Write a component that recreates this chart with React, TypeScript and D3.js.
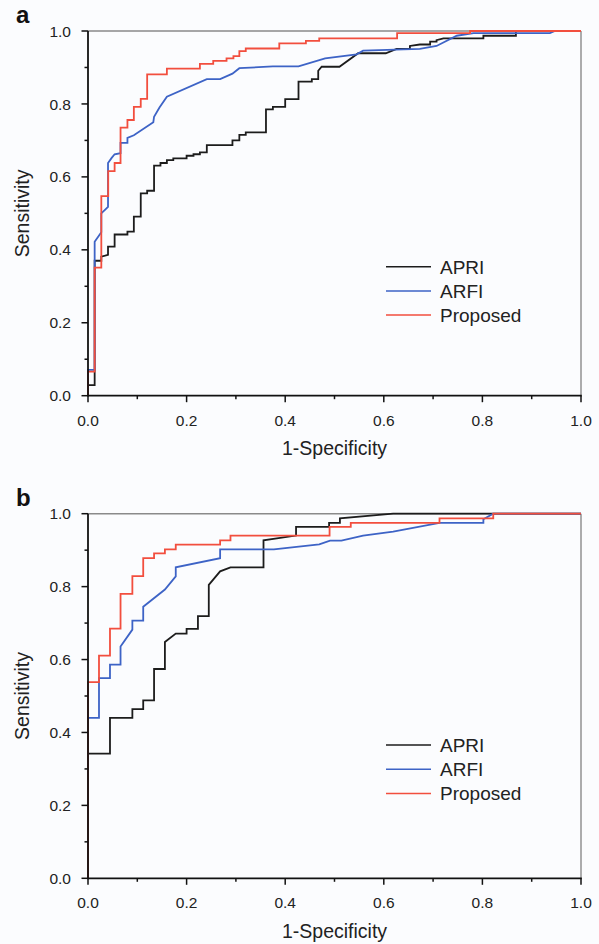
import React from 'react';
import * as d3 from 'd3';

// ---------- data ----------
const seriesNames = ['APRI', 'ARFI', 'Proposed'];
const seriesColors = ['#1c1c1c', '#3d63c6', '#f24e3e'];
const majorTicks = [0, 0.2, 0.4, 0.6, 0.8, 1.0];
const minorTicks = [0.1, 0.3, 0.5, 0.7, 0.9];
const tickLabels = ['0.0', '0.2', '0.4', '0.6', '0.8', '1.0'];
const panelLetters = ['a', 'b'];
const xTitle = '1-Specificity';
const yTitle = 'Sensitivity';

// Panel a
const aApriFpr = [0, 0, 0.0135, 0.0135, 0.027, 0.027, 0.0406, 0.0406, 0.054, 0.054, 0.08, 0.08, 0.093, 0.093, 0.107, 0.107, 0.12, 0.12, 0.134, 0.134, 0.147, 0.147, 0.16, 0.16, 0.173, 0.173, 0.2, 0.2, 0.214, 0.214, 0.227, 0.227, 0.241, 0.241, 0.293, 0.293, 0.307, 0.307, 0.32, 0.32, 0.361, 0.361, 0.375, 0.375, 0.4, 0.4, 0.427, 0.427, 0.454, 0.454, 0.467, 0.467, 0.474, 0.51, 0.548, 0.604, 0.626, 0.653, 0.653, 0.673, 0.694, 0.694, 0.707, 0.707, 0.721, 0.802, 0.802, 0.868, 0.868, 1];
const aApriTpr = [0, 0.029, 0.029, 0.37, 0.37, 0.381, 0.386, 0.409, 0.409, 0.442, 0.442, 0.45, 0.45, 0.491, 0.491, 0.555, 0.555, 0.562, 0.562, 0.631, 0.631, 0.638, 0.638, 0.646, 0.646, 0.651, 0.651, 0.658, 0.658, 0.662, 0.662, 0.667, 0.667, 0.687, 0.687, 0.7, 0.7, 0.715, 0.715, 0.722, 0.722, 0.785, 0.785, 0.792, 0.792, 0.813, 0.813, 0.861, 0.861, 0.868, 0.868, 0.891, 0.902, 0.902, 0.939, 0.939, 0.951, 0.951, 0.959, 0.963, 0.963, 0.971, 0.971, 0.975, 0.98, 0.98, 0.987, 0.987, 1, 1];

const aArfiFpr = [0, 0, 0.0135, 0.0135, 0.027, 0.027, 0.0406, 0.0406, 0.048, 0.054, 0.066, 0.066, 0.08, 0.08, 0.093, 0.1325, 0.134, 0.145, 0.16, 0.241, 0.268, 0.293, 0.307, 0.375, 0.427, 0.481, 0.545, 0.558, 0.673, 0.707, 0.748, 0.782, 0.937, 0.947, 1];
const aArfiTpr = [0, 0.071, 0.071, 0.422, 0.448, 0.5, 0.518, 0.638, 0.652, 0.662, 0.665, 0.693, 0.693, 0.707, 0.714, 0.75, 0.765, 0.79, 0.82, 0.868, 0.868, 0.883, 0.898, 0.903, 0.903, 0.925, 0.936, 0.946, 0.951, 0.959, 0.987, 0.994, 0.994, 1, 1];

const aPropFpr = [0, 0, 0.0135, 0.0135, 0.027, 0.027, 0.041, 0.041, 0.054, 0.054, 0.066, 0.066, 0.08, 0.08, 0.093, 0.093, 0.107, 0.107, 0.12, 0.12, 0.16, 0.16, 0.227, 0.227, 0.254, 0.254, 0.281, 0.281, 0.295, 0.295, 0.307, 0.307, 0.32, 0.32, 0.388, 0.388, 0.442, 0.442, 0.469, 0.469, 0.627, 0.627, 0.775, 0.775, 1];
const aPropTpr = [0, 0.066, 0.066, 0.351, 0.351, 0.547, 0.547, 0.616, 0.616, 0.638, 0.638, 0.735, 0.735, 0.756, 0.756, 0.792, 0.792, 0.814, 0.814, 0.881, 0.881, 0.897, 0.897, 0.91, 0.91, 0.918, 0.918, 0.925, 0.925, 0.931, 0.931, 0.945, 0.945, 0.952, 0.952, 0.966, 0.966, 0.973, 0.973, 0.98, 0.98, 0.994, 0.994, 1, 1];

// Panel b
const bApriFpr = [0, 0, 0.0446, 0.0446, 0.09, 0.09, 0.112, 0.112, 0.134, 0.134, 0.156, 0.156, 0.178, 0.2, 0.2, 0.223, 0.223, 0.245, 0.245, 0.268, 0.289, 0.356, 0.356, 0.422, 0.422, 0.489, 0.489, 0.511, 0.511, 0.619, 1];
const bApriTpr = [0, 0.342, 0.342, 0.44, 0.44, 0.464, 0.464, 0.488, 0.488, 0.574, 0.574, 0.648, 0.671, 0.671, 0.684, 0.684, 0.719, 0.719, 0.805, 0.842, 0.853, 0.853, 0.927, 0.94, 0.964, 0.964, 0.975, 0.975, 0.987, 1, 1];

const bArfiFpr = [0, 0, 0.0223, 0.0223, 0.0446, 0.0446, 0.066, 0.066, 0.09, 0.09, 0.112, 0.112, 0.156, 0.178, 0.178, 0.268, 0.268, 0.377, 0.469, 0.491, 0.514, 0.558, 0.619, 0.713, 0.802, 0.802, 0.822, 1];
const bArfiTpr = [0, 0.44, 0.44, 0.549, 0.549, 0.586, 0.586, 0.636, 0.682, 0.707, 0.707, 0.745, 0.792, 0.828, 0.853, 0.878, 0.902, 0.902, 0.916, 0.926, 0.926, 0.94, 0.951, 0.975, 0.975, 0.985, 1, 1];

const bPropFpr = [0, 0, 0.0223, 0.0223, 0.0446, 0.0446, 0.066, 0.066, 0.09, 0.09, 0.112, 0.112, 0.134, 0.134, 0.156, 0.156, 0.178, 0.178, 0.268, 0.268, 0.289, 0.289, 0.49, 0.49, 0.533, 0.533, 0.713, 0.713, 0.822, 0.822, 1];
const bPropTpr = [0, 0.538, 0.538, 0.611, 0.611, 0.685, 0.685, 0.78, 0.78, 0.829, 0.829, 0.878, 0.878, 0.891, 0.891, 0.902, 0.902, 0.915, 0.915, 0.927, 0.927, 0.94, 0.94, 0.964, 0.964, 0.975, 0.975, 0.987, 0.987, 1, 1];

// ---------- layout ----------
const W = 599;
const H = 944;
const X0 = 88;
const X1 = 581;
const FONT = "'Liberation Sans', Arial, Helvetica, sans-serif";

type Pts = [number, number][];
const zip = (a: number[], b: number[]): Pts => a.map((v, i) => [v, b[i]]);

interface PanelProps {
  top: number;
  bottom: number;
  letter: string;
  letterY: number;
  legendTop: number;
  series: Pts[];
}

function Panel({ top, bottom, letter, letterY, legendTop, series }: PanelProps) {
  const x = d3.scaleLinear().domain([0, 1]).range([X0, X1]);
  const y = d3.scaleLinear().domain([0, 1]).range([bottom, top]);
  const line = d3
    .line<[number, number]>()
    .x((d) => x(d[0]))
    .y((d) => y(d[1]));
  const midY = (top + bottom) / 2;
  const midX = (X0 + X1) / 2;
  return (
    <g>
      <text x={16} y={letterY} fontFamily={FONT} fontWeight="bold" fontSize={24} fill="#111">
        {letter}
      </text>
      {/* frame top/right grey */}
      <line x1={X0} x2={X1} y1={top} y2={top} stroke="#8a8a8a" strokeWidth={1.4} />
      <line x1={X1} x2={X1} y1={top} y2={bottom} stroke="#8a8a8a" strokeWidth={1.4} />
      {/* curves */}
      {series.map((pts, i) => (
        <path
          key={i}
          d={line(pts) || ''}
          fill="none"
          stroke={seriesColors[i]}
          strokeWidth={1.8}
          strokeLinejoin="miter"
        />
      ))}
      {/* axes */}
      <line x1={X0} x2={X1 + 0.8} y1={bottom} y2={bottom} stroke="#111" strokeWidth={1.8} />
      <line x1={X0} x2={X0} y1={top} y2={bottom + 0.9} stroke="#111" strokeWidth={1.8} />
      {majorTicks.map((t, i) => (
        <g key={'mx' + i}>
          <line x1={x(t)} x2={x(t)} y1={bottom} y2={bottom + 6.5} stroke="#111" strokeWidth={1.5} />
          <text
            x={x(t)}
            y={bottom + 30}
            textAnchor="middle"
            fontFamily={FONT}
            fontSize={15.5}
            fill="#222"
          >
            {tickLabels[i]}
          </text>
          <line x1={X0} x2={X0 - 6.5} y1={y(t)} y2={y(t)} stroke="#111" strokeWidth={1.5} />
          <text
            x={71}
            y={y(t)}
            dy="0.36em"
            textAnchor="end"
            fontFamily={FONT}
            fontSize={15.5}
            fill="#222"
          >
            {tickLabels[i]}
          </text>
        </g>
      ))}
      {minorTicks.map((t, i) => (
        <g key={'mn' + i}>
          <line x1={x(t)} x2={x(t)} y1={bottom} y2={bottom + 3.5} stroke="#111" strokeWidth={1.5} />
          <line x1={X0} x2={X0 - 3.5} y1={y(t)} y2={y(t)} stroke="#111" strokeWidth={1.5} />
        </g>
      ))}
      <text
        x={midX}
        y={bottom + 59.5}
        textAnchor="middle"
        fontFamily={FONT}
        fontSize={19.5}
        fill="#222"
      >
        {xTitle}
      </text>
      <text
        transform={`translate(29,${midY}) rotate(-90)`}
        textAnchor="middle"
        fontFamily={FONT}
        fontSize={19.5}
        fill="#222"
      >
        {yTitle}
      </text>
      {/* legend */}
      {seriesNames.map((n, i) => {
        const ly = legendTop + i * 24.2;
        return (
          <g key={'lg' + i}>
            <line x1={386} x2={431} y1={ly} y2={ly} stroke={seriesColors[i]} strokeWidth={1.5} />
            <text x={440} y={ly} dy="0.36em" fontFamily={FONT} fontSize={19} fill="#222">
              {n}
            </text>
          </g>
        );
      })}
    </g>
  );
}

export default function App() {
  const seriesA: Pts[] = [zip(aApriFpr, aApriTpr), zip(aArfiFpr, aArfiTpr), zip(aPropFpr, aPropTpr)];
  const seriesB: Pts[] = [zip(bApriFpr, bApriTpr), zip(bArfiFpr, bArfiTpr), zip(bPropFpr, bPropTpr)];
  return (
    <svg
      width={W}
      height={H}
      viewBox={`0 0 ${W} ${H}`}
      style={{ position: 'absolute', left: 0, top: 0 }}
    >
      <rect x={0} y={0} width={W} height={H} fill="#fbfcfe" />
      <Panel top={31} bottom={395.7} letter={panelLetters[0]} letterY={23} legendTop={266.7} series={seriesA} />
      <Panel top={513.7} bottom={878.3} letter={panelLetters[1]} letterY={506} legendTop={745} series={seriesB} />
    </svg>
  );
}
